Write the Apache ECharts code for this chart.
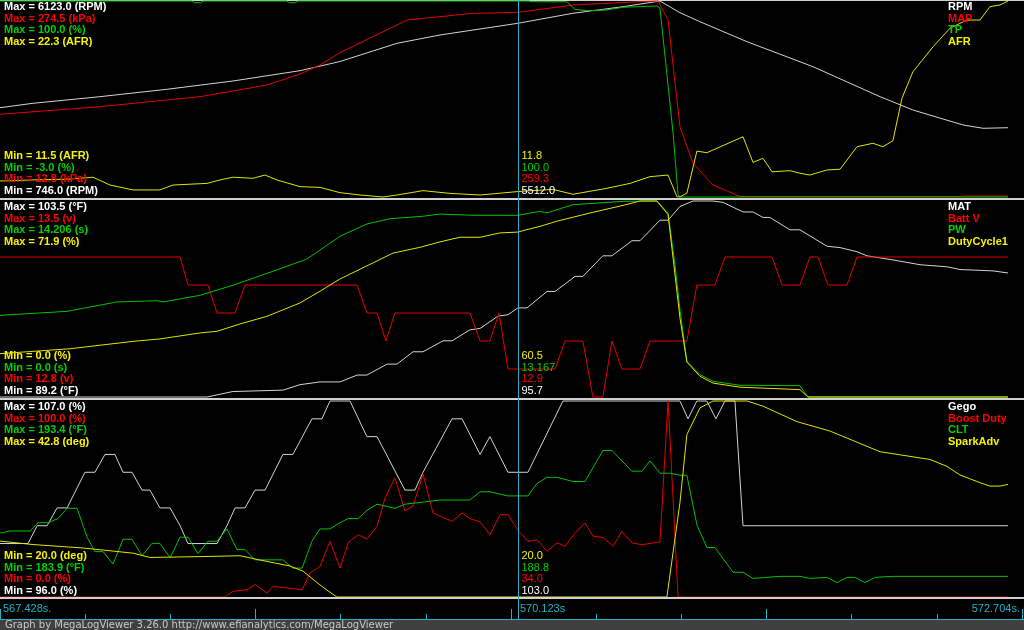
<!DOCTYPE html>
<html><head><meta charset="utf-8">
<script src="https://cdn.jsdelivr.net/npm/echarts@6/dist/echarts.min.js"></script>
<style>html,body{margin:0;padding:0;background:#000;}#c{width:1024px;height:630px;}</style>
</head><body><div id="c"></div>
<script>
// ---- time axis ----
const T_MIN = 567.428, T_MAX = 572.704, T_CURSOR = 570.123;
const timeLabelValues = [567.428, 570.123, 572.704];
const timeLabels = ['567.428s.', '570.123s', '572.704s.'];
const footerText = 'Graph by MegaLogViewer 3.26.0 http://www.efianalytics.com/MegaLogViewer';

// ---- panel 1 ----
const p1Names = ['RPM', 'MAP', 'TP', 'AFR'];
const p1Units = ['RPM', 'kPa', '%', 'AFR'];
const p1Min = [746.0, 12.8, -3.0, 11.5];
const p1Max = [6123.0, 274.5, 100.0, 22.3];
const p1Cursor = [5512.0, 259.3, 100.0, 11.8];
const rpm = [[567.428,3196],[567.600,3317],[567.948,3498],[568.297,3701],[568.640,3928],[568.989,4211],[569.197,4463],[569.494,4963],[569.717,5190],[570.123,5512],[570.409,5786],[570.670,5967],[570.862,6123],[570.966,5802],[571.070,5555],[571.315,5006],[571.658,4321],[572.007,3498],[572.178,3133],[572.439,2721],[572.543,2631],[572.673,2647]];
const map = [[567.428,123.2],[567.948,133.4],[568.469,146.7],[568.817,162.3],[568.989,177.0],[569.093,189.0],[569.197,205.5],[569.546,249.1],[569.889,258.1],[570.123,259.3],[570.409,269.2],[570.758,273.6],[570.852,274.5],[570.904,249.1],[570.966,106.3],[571.034,57.8],[571.138,28.8],[571.278,13.5],[572.423,13.5],[572.449,14.1],[572.673,14.1]];
const tp = [[567.428,100],[568.427,100],[568.440,99.1],[568.471,99.1],[568.484,100],[568.921,100],[568.934,99.1],[568.965,99.1],[568.978,100],[570.180,100],[570.196,99.6],[570.378,99.6],[570.420,95.6],[570.482,94.9],[570.586,95.3],[570.670,96.7],[570.846,97.4],[570.862,96.2],[570.930,30.6],[570.956,-1.9],[570.971,-3],[572.673,-3]];
const afr = [[567.428,12.38],[567.600,12.44],[567.777,12.48],[567.912,12.59],[568.000,12.16],[568.120,11.89],[568.260,11.89],[568.328,12.16],[568.505,12.25],[568.573,12.44],[568.640,12.59],[568.744,12.53],[568.807,12.71],[568.869,12.44],[568.989,12.07],[569.093,12.03],[569.197,11.74],[569.301,11.61],[569.421,11.5],[569.494,11.61],[569.629,11.85],[569.769,11.70],[569.926,11.61],[570.123,11.8],[570.305,11.92],[570.409,11.65],[570.586,11.98],[570.706,12.25],[570.810,12.62],[570.904,12.71],[570.950,11.52],[570.966,11.5],[571.002,11.72],[571.054,14.03],[571.106,13.94],[571.294,14.82],[571.346,13.41],[571.398,13.63],[571.445,12.89],[571.538,12.95],[571.590,12.81],[571.642,12.71],[571.731,12.99],[571.799,13.03],[571.887,14.27],[571.970,14.46],[572.022,14.27],[572.074,14.60],[572.121,16.94],[572.178,18.40],[572.283,19.78],[572.371,20.80],[572.459,21.25],[572.527,21.25],[572.579,21.99],[572.631,22.08],[572.673,22.3]];

// ---- panel 2 ----
const p2Names = ['MAT', 'Batt V', 'PW', 'DutyCycle1'];
const p2Units = ['°F', 'v', 's', '%'];
const p2Min = [89.2, 12.8, 0.0, 0.0];
const p2Max = [103.5, 13.5, 14.206, 71.9];
const p2Cursor = [95.7, 12.9, 13.167, 60.5];
const mat = [[567.428,89.2],[568.505,89.2],[568.640,89.6],[568.900,89.7],[568.989,90.1],[569.093,90.3],[569.197,90.3],[569.286,90.8],[569.337,90.8],[569.442,91.6],[569.494,91.6],[569.577,92.5],[569.629,92.5],[569.733,93.3],[569.780,93.3],[569.873,94.1],[569.926,94.2],[570.019,95.1],[570.071,95.2],[570.123,95.7],[570.170,95.7],[570.274,96.9],[570.316,96.9],[570.420,98.0],[570.461,98.0],[570.565,99.5],[570.612,99.5],[570.716,100.6],[570.758,100.6],[570.862,102.1],[570.904,102.1],[570.966,103.1],[571.034,103.5],[571.138,103.5],[571.190,103.4],[571.294,102.7],[571.346,102.7],[571.398,102.3],[571.434,102.3],[571.538,101.4],[571.590,101.4],[571.731,100.2],[571.799,100.1],[571.887,99.8],[571.939,99.5],[572.074,99.2],[572.215,98.85],[572.355,98.7],[572.423,98.5],[572.595,98.4],[572.673,98.25]];
const battV = [[567.428,13.3],[568.365,13.3],[568.406,13.2],[568.510,13.2],[568.557,13.1],[568.651,13.1],[568.703,13.2],[569.286,13.2],[569.337,13.1],[569.390,13.1],[569.436,13.0],[569.483,13.1],[569.873,13.1],[569.926,13.0],[569.977,13.0],[570.024,13.1],[570.071,12.9],[570.316,12.9],[570.368,13.0],[570.461,13.0],[570.513,12.8],[570.565,12.8],[570.612,13.0],[570.664,12.9],[570.758,12.9],[570.810,13.0],[571.002,13.0],[571.054,13.2],[571.148,13.2],[571.200,13.3],[571.445,13.3],[571.497,13.2],[571.590,13.2],[571.642,13.3],[571.684,13.3],[571.736,13.2],[571.835,13.2],[571.887,13.3],[572.673,13.3]];
const pw = [[567.428,5.92],[567.777,6.21],[568.037,6.89],[568.245,6.98],[568.276,6.89],[568.469,7.37],[568.640,8.10],[568.848,9.11],[569.025,10.00],[569.197,11.65],[569.337,12.54],[569.457,12.92],[569.629,13.10],[569.717,13.26],[569.889,13.17],[570.123,13.167],[570.238,13.46],[570.274,13.34],[570.409,13.94],[570.670,14.18],[570.846,14.206],[570.904,13.34],[570.940,9.59],[570.966,6.31],[571.002,2.59],[571.070,1.62],[571.138,1.14],[571.278,0.85],[571.590,0.82],[571.632,0],[572.673,0]];
const duty = [[567.428,15.9],[567.792,17.7],[568.120,20.4],[568.260,21.3],[568.469,23.5],[568.557,24.1],[568.677,26.8],[568.817,29.6],[568.989,34.5],[569.093,38.8],[569.197,43.3],[569.369,49.2],[569.473,52.8],[569.613,54.9],[569.717,56.9],[569.821,58.6],[569.926,58.6],[570.030,60.2],[570.123,60.5],[570.170,61.4],[570.238,62.6],[570.326,64.5],[570.498,67.5],[570.670,70.3],[570.758,71.9],[570.846,71.9],[570.904,66.9],[570.966,29.0],[571.002,12.8],[571.070,7.6],[571.138,5.1],[571.278,3.6],[571.590,2.7],[571.632,0],[572.673,0]];

// ---- panel 3 ----
const p3Names = ['Gego', 'Boost Duty', 'CLT', 'SparkAdv'];
const p3Units = ['%', '%', '°F', 'deg'];
const p3Min = [96.0, 0.0, 183.9, 20.0];
const p3Max = [107.0, 100.0, 193.4, 42.8];
const p3Cursor = [103.0, 34.0, 188.8, 20.0];
const gego = [[567.428,99],[567.574,99],[567.621,100],[567.673,100],[567.725,101],[567.777,101],[567.870,103],[567.922,103],[567.974,104],[568.026,104],[568.068,103],[568.115,103],[568.167,102],[568.208,102],[568.260,101],[568.313,101],[568.365,100],[568.406,99],[568.557,99],[568.609,100],[568.651,101],[568.703,101],[568.755,102],[568.807,102],[568.900,104],[568.952,104],[569.051,106],[569.103,106],[569.145,107],[569.249,107],[569.337,105],[569.390,105],[569.535,102],[569.587,102],[569.629,103],[569.780,106],[569.832,106],[569.926,104],[569.977,105],[570.071,103],[570.175,103],[570.357,107],[570.966,107],[571.008,106],[571.054,107],[571.106,107],[571.153,106],[571.200,107],[571.252,107],[571.294,100],[572.673,100]];
const boost = [[567.428,0],[568.599,0],[568.640,2.9],[568.713,3.7],[568.755,6.3],[568.817,2.0],[568.848,5.4],[568.921,4.6],[569.000,3.7],[569.041,12.2],[569.093,15.6],[569.145,28.4],[569.197,14.8],[569.239,27.6],[569.291,31.8],[569.337,29.6],[569.390,36.1],[569.431,50.5],[569.483,60.7],[569.535,44.0],[569.577,46.3],[569.629,62.8],[569.681,42.9],[569.780,38.6],[569.832,42.9],[569.873,40.0],[569.926,38.3],[569.977,31.8],[570.030,42.0],[570.071,42.0],[570.123,34.0],[570.175,28.4],[570.222,29.2],[570.274,23.3],[570.326,27.6],[570.368,25.9],[570.420,32.7],[570.472,37.8],[570.513,31.0],[570.565,30.4],[570.617,25.9],[570.664,33.5],[570.716,27.6],[570.768,26.7],[570.862,28.1],[570.904,100],[570.956,0],[572.673,0]];
const clt = [[567.428,187.0],[567.480,187.1],[567.584,187.1],[567.626,187.5],[567.678,187.5],[567.730,187.7],[567.777,188.2],[567.829,188.2],[567.881,186.8],[567.922,186.1],[567.964,186.1],[568.016,185.5],[568.068,186.7],[568.115,186.7],[568.167,185.9],[568.219,186.5],[568.260,186.5],[568.313,185.8],[568.365,186.8],[568.406,186.8],[568.458,186.0],[568.510,186.6],[568.557,186.6],[568.609,187.2],[568.661,186.2],[568.703,186.2],[568.755,185.7],[568.900,185.7],[568.952,185.3],[569.000,185.3],[569.051,186.6],[569.093,187.2],[569.145,187.2],[569.197,187.5],[569.239,187.7],[569.291,187.7],[569.337,188.1],[569.390,188.4],[569.483,188.2],[569.535,188.4],[569.629,188.5],[569.717,188.6],[569.873,188.6],[569.926,189.0],[569.977,189.0],[570.071,188.8],[570.175,188.8],[570.222,189.4],[570.274,189.7],[570.326,189.7],[570.409,189.5],[570.472,189.5],[570.565,191.0],[570.612,191.0],[570.716,190.0],[570.768,190.0],[570.810,190.5],[570.862,189.9],[570.914,189.9],[570.966,189.8],[571.002,189.8],[571.054,187.4],[571.106,186.3],[571.148,186.3],[571.242,185.1],[571.294,185.1],[571.346,184.8],[571.486,184.9],[571.590,184.9],[571.642,184.8],[571.731,184.85],[571.783,184.6],[571.835,184.85],[571.877,184.85],[571.929,184.6],[571.981,184.85],[572.074,184.9],[572.673,184.9]];
const spark = [[567.428,26.5],[567.600,26.1],[567.860,25.7],[568.120,25.1],[568.208,24.6],[568.469,24.7],[568.677,24.8],[568.781,24.3],[568.937,23.6],[569.005,23.0],[569.093,21.4],[569.161,20.3],[569.181,20.0],[570.898,20.0],[570.966,31.0],[571.002,38.9],[571.070,42.0],[571.138,42.8],[571.315,42.8],[571.398,42.2],[571.575,40.4],[571.747,39.3],[572.007,36.9],[572.267,36.0],[572.355,35.2],[572.423,34.2],[572.527,33.3],[572.579,32.9],[572.631,32.9],[572.673,33.1]];

// ---- styling ----
const lineColors = ['#d4d4d4', '#e60000', '#00c400', '#e4e400'];
const textColors = ['#ffffff', '#ff0000', '#00d200', '#f4f400'];
const CYAN = '#22b2c6';
const BOLD = 'bold 11px "Liberation Sans", Arial, sans-serif';
const REG = '11px "Liberation Sans", Arial, sans-serif';

const panels = [
  {names: p1Names, units: p1Units, min: p1Min, max: p1Max, cursor: p1Cursor, data: [rpm, map, tp, afr]},
  {names: p2Names, units: p2Units, min: p2Min, max: p2Max, cursor: p2Cursor, data: [mat, battV, pw, duty]},
  {names: p3Names, units: p3Units, min: p3Min, max: p3Max, cursor: p3Cursor, data: [gego, boost, clt, spark]}
];
const PANEL_H = 200;

function fmt(v) {
  return Number.isInteger(Math.round(v * 1000) / 100) ? v.toFixed(1) : String(v);
}

const chart = echarts.init(document.getElementById('c'), null, {renderer: 'canvas'});
const grids = [], xAxes = [], yAxes = [], series = [];
panels.forEach((p, g) => {
  grids.push({left: 0, width: 1014, top: 1 + PANEL_H * g, height: 196});
  xAxes.push({type: 'value', gridIndex: g, min: T_MIN, max: T_MAX, show: false});
  p.data.forEach((d, k) => {
    yAxes.push({type: 'value', gridIndex: g, min: p.min[k], max: p.max[k], show: false});
    series.push({
      type: 'line', name: p.names[k], xAxisIndex: g, yAxisIndex: yAxes.length - 1,
      data: d, symbol: 'none', showSymbol: false, clip: false, silent: true,
      lineStyle: {width: 1, color: lineColors[k]}, z: 2 + k
    });
  });
});
// bottom tick strip
grids.push({left: 0, width: 1022, top: 599, height: 20});
xAxes.push({type: 'value', gridIndex: 3, min: 0, max: 12, interval: 1, position: 'bottom',
  axisLine: {show: true, lineStyle: {color: CYAN, width: 1}},
  axisTick: {show: true, inside: true, length: 5, lineStyle: {color: CYAN, width: 1}},
  axisLabel: {show: false}, splitLine: {show: false}});
xAxes.push({type: 'value', gridIndex: 3, min: 0, max: 12, interval: 3, position: 'bottom',
  axisLine: {show: false},
  axisTick: {show: true, inside: true, length: 10, lineStyle: {color: CYAN, width: 1}},
  axisLabel: {show: false}, splitLine: {show: false}});
yAxes.push({type: 'value', gridIndex: 3, show: false});

chart.setOption({
  backgroundColor: '#000000',
  animation: false,
  grid: grids, xAxis: xAxes, yAxis: yAxes, series: series
});

const px = v => chart.convertToPixel({xAxisIndex: 0}, v);
const gfx = [];
// panel borders / separators
gfx.push({type: 'rect', shape: {x: 0, y: 0, width: 1024, height: 1}, style: {fill: '#d0d0d0'}, z: 1});
[198, 398, 597].forEach(y => gfx.push({type: 'rect', shape: {x: 0, y: y, width: 1024, height: 2}, style: {fill: '#d0d0d0'}, z: 50}));
// footer
gfx.push({type: 'rect', shape: {x: 0, y: 620, width: 1024, height: 10}, style: {fill: '#404040'}, z: 50});
gfx.push({type: 'text', x: 5, y: 625.5, style: {text: footerText, fill: '#c8c8c8', font: '10px "DejaVu Sans", Verdana, sans-serif', align: 'left', verticalAlign: 'middle'}, z: 60});
gfx.push({type: 'rect', shape: {x: 1022, y: 619, width: 2, height: 1}, style: {fill: CYAN}, z: 50});
// cursor line
const cx = Math.round(px(T_CURSOR)) + 0.5;
gfx.push({type: 'line', shape: {x1: cx, y1: 0, x2: cx, y2: 619}, style: {stroke: CYAN, lineWidth: 1}, z: 60});
// time labels
timeLabelValues.forEach((v, i) => {
  const last = i === timeLabelValues.length - 1;
  gfx.push({type: 'text', x: last ? px(v) + 6 : px(v) + (i === 0 ? 3 : 2), y: 608.5,
    style: {text: timeLabels[i], fill: CYAN, font: REG, align: last ? 'right' : 'left', verticalAlign: 'middle'}, z: 60});
});
// panel texts
const maxOff = [7, 18.5, 30, 41.5];
const minOff = [156, 167.5, 179, 190.5];
panels.forEach((p, g) => {
  const top = PANEL_H * g;
  for (let k = 0; k < 4; k++) {
    gfx.push({type: 'text', x: 4, y: top + maxOff[k],
      style: {text: 'Max = ' + fmt(p.max[k]) + ' (' + p.units[k] + ')', fill: textColors[k], font: BOLD, verticalAlign: 'middle'}, z: 70});
    gfx.push({type: 'text', x: 948, y: top + maxOff[k],
      style: {text: p.names[k], fill: textColors[k], font: BOLD, verticalAlign: 'middle'}, z: 70});
    const r = 3 - k; // bottom block lists series in reverse
    gfx.push({type: 'text', x: 4, y: top + minOff[r],
      style: {text: 'Min = ' + fmt(p.min[k]) + ' (' + p.units[k] + ')', fill: textColors[k], font: BOLD, verticalAlign: 'middle'}, z: 70});
    gfx.push({type: 'text', x: cx + 3, y: top + minOff[r],
      style: {text: fmt(p.cursor[k]), fill: textColors[k], font: REG, verticalAlign: 'middle'}, z: 70});
  }
});
chart.setOption({graphic: gfx});
</script>
</body></html>
